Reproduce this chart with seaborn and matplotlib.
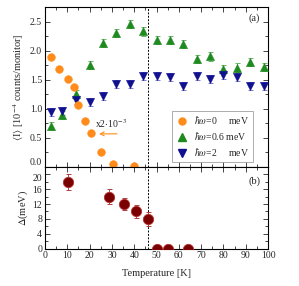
import matplotlib
matplotlib.use("Agg")

import matplotlib.pyplot as plt
import matplotlib.ticker as mticker
from matplotlib.lines import Line2D
import pandas as pd
import seaborn as sns

# ---------------------------------------------------------------------------
# Data
# ---------------------------------------------------------------------------
T_ELASTIC = [2.5, 6.5, 10.5, 13, 15, 18, 20.5, 25, 30.5, 40]
I_ELASTIC = [1.89, 1.69, 1.52, 1.38, 1.07, 0.79, 0.58, 0.25, 0.05, 0.01]

T_INEL = [2.5, 7.5, 14, 20, 26, 32, 38, 44, 50, 56, 62, 68, 74, 80, 86, 92, 98]
I_06 = [0.70, 0.90, 1.25, 1.76, 2.13, 2.30, 2.46, 2.33, 2.19, 2.18, 2.11,
        1.86, 1.90, 1.68, 1.71, 1.80, 1.72]
I_2 = [0.94, 0.96, 1.15, 1.12, 1.22, 1.43, 1.43, 1.56, 1.57, 1.54, 1.39,
       1.56, 1.52, 1.59, 1.54, 1.39, 1.39]
I_ERR = 0.07

T_GAP = [10.5, 28.5, 35.5, 41, 46, 50, 55, 64]
GAP = [18, 14, 12, 10, 8, 0, 0, 0]
GAP_ERR = [2.2, 2.0, 1.7, 1.7, 1.8, 0, 0, 0]

T_C = 46

ORANGE = "#ff8c1a"
GREEN = "#1f8a1f"
BLUE = "#101090"
DARKRED = "#7a0000"

sns.set_theme(style="ticks")
plt.rcParams["font.family"] = ["Liberation Serif", "DejaVu Serif"]
plt.rcParams["mathtext.fontset"] = "stix"
plt.rcParams["font.size"] = 7

fig = plt.figure(figsize=(2.99, 2.86), dpi=100)
ax1 = fig.add_axes([0.1505, 0.416, 0.746, 0.5595])
ax2 = fig.add_axes([0.1505, 0.131, 0.746, 0.285], sharex=ax1)

elastic = pd.DataFrame({"T": T_ELASTIC, "I": I_ELASTIC})
inel = pd.DataFrame({"T": T_INEL, "I06": I_06, "I2": I_2})
gap = pd.DataFrame({"T": T_GAP, "D": GAP, "err": GAP_ERR})

# --- panel (a) ---
ax1.errorbar(inel["T"], inel["I06"], yerr=I_ERR, fmt="none",
             ecolor="#66b866", elinewidth=0.7, capsize=1.8, capthick=0.7)
ax1.errorbar(inel["T"], inel["I2"], yerr=I_ERR, fmt="none",
             ecolor="#7f7fd0", elinewidth=0.7, capsize=1.8, capthick=0.7)
sns.scatterplot(data=inel, x="T", y="I06", marker="^", s=36, color=GREEN,
                edgecolor=GREEN, linewidth=0.3, ax=ax1, zorder=3)
sns.scatterplot(data=inel, x="T", y="I2", marker="v", s=36, color=BLUE,
                edgecolor=BLUE, linewidth=0.3, ax=ax1, zorder=3)
sns.scatterplot(data=elastic, x="T", y="I", marker="o", s=32, color=ORANGE,
                edgecolor=ORANGE, linewidth=0.3, ax=ax1, zorder=3)

ax1.annotate("", xy=(23, 0.57), xytext=(33.5, 0.57),
             arrowprops=dict(arrowstyle="->", color=ORANGE, lw=0.8))
ax1.text(22.5, 0.74, r"x2$\cdot$10$^{-3}$", fontsize=7, va="center", ha="left")
ax1.text(0.965, 0.915, "(a)", transform=ax1.transAxes, ha="right", fontsize=7.5)

ax1.set_ylim(0, 2.75)
ax1.set_xlim(0, 100)
ax1.yaxis.set_major_locator(mticker.MultipleLocator(0.5))
ax1.yaxis.set_minor_locator(mticker.MultipleLocator(0.25))
ax1.yaxis.set_major_formatter(mticker.FormatStrFormatter("%.1f"))
ax1.set_ylabel(r"$\langle$I$\rangle$ [10$^{-4}$ counts/monitor]", fontsize=7.5, labelpad=3)
ax1.set_xlabel("")
ax1.tick_params(axis="x", labelbottom=False)

handles = [
    Line2D([], [], marker="o", ls="none", color=ORANGE, ms=5),
    Line2D([], [], marker="^", ls="none", color=GREEN, ms=5.5),
    Line2D([], [], marker="v", ls="none", color=BLUE, ms=5.5),
]
labels = [r"$\hbar\omega$=0     meV", r"$\hbar\omega$=0.6 meV", r"$\hbar\omega$=2     meV"]
leg = ax1.legend(handles, labels, loc="lower right", bbox_to_anchor=(0.955, 0.0),
                 fontsize=7, frameon=True, fancybox=False, borderpad=0.4,
                 handletextpad=0.6, labelspacing=0.4, handlelength=1.3)
leg.get_frame().set_edgecolor("#888888")
leg.get_frame().set_linewidth(0.6)

# --- panel (b) ---
ax2.errorbar(gap["T"][:5], gap["D"][:5], yerr=gap["err"][:5], fmt="none",
             ecolor="#b04040", elinewidth=0.7, capsize=1.8, capthick=0.7)
sns.scatterplot(data=gap, x="T", y="D", marker="o", s=55, color=DARKRED,
                edgecolor="#b03030", linewidth=0.6, ax=ax2, zorder=3)
ax2.text(0.965, 0.8, "(b)", transform=ax2.transAxes, ha="right", fontsize=7.5)

ax2.set_ylim(0, 22)
ax2.yaxis.set_major_locator(mticker.MultipleLocator(4))
ax2.yaxis.set_minor_locator(mticker.MultipleLocator(2))
ax2.xaxis.set_major_locator(mticker.MultipleLocator(10))
ax2.xaxis.set_minor_locator(mticker.MultipleLocator(5))
ax2.set_ylabel(r"$\Delta$(meV)", fontsize=7.5, labelpad=2)
ax2.set_xlabel("Temperature [K]", fontsize=7.5, labelpad=6)

for ax in (ax1, ax2):
    ax.axvline(T_C, color="black", ls=(0, (2, 1.5)), lw=0.7, zorder=1)
    ax.tick_params(which="both", direction="in", top=True, right=True,
                   labelsize=7, pad=2, width=0.6)
    ax.tick_params(which="major", length=3.5)
    ax.tick_params(which="minor", length=2)
    for sp in ax.spines.values():
        sp.set_linewidth(0.8)
        sp.set_color("black")

# keep the stacked "0.0" / "20" labels from colliding
fig.canvas.draw()
for tick in ax1.yaxis.get_major_ticks():
    if abs(tick.get_loc()) < 1e-9:
        tick.label1.set_verticalalignment("bottom")
for tick in ax2.yaxis.get_major_ticks():
    if abs(tick.get_loc() - 20) < 1e-9:
        tick.label1.set_verticalalignment("top")

fig.savefig("out.png", dpi=100)
